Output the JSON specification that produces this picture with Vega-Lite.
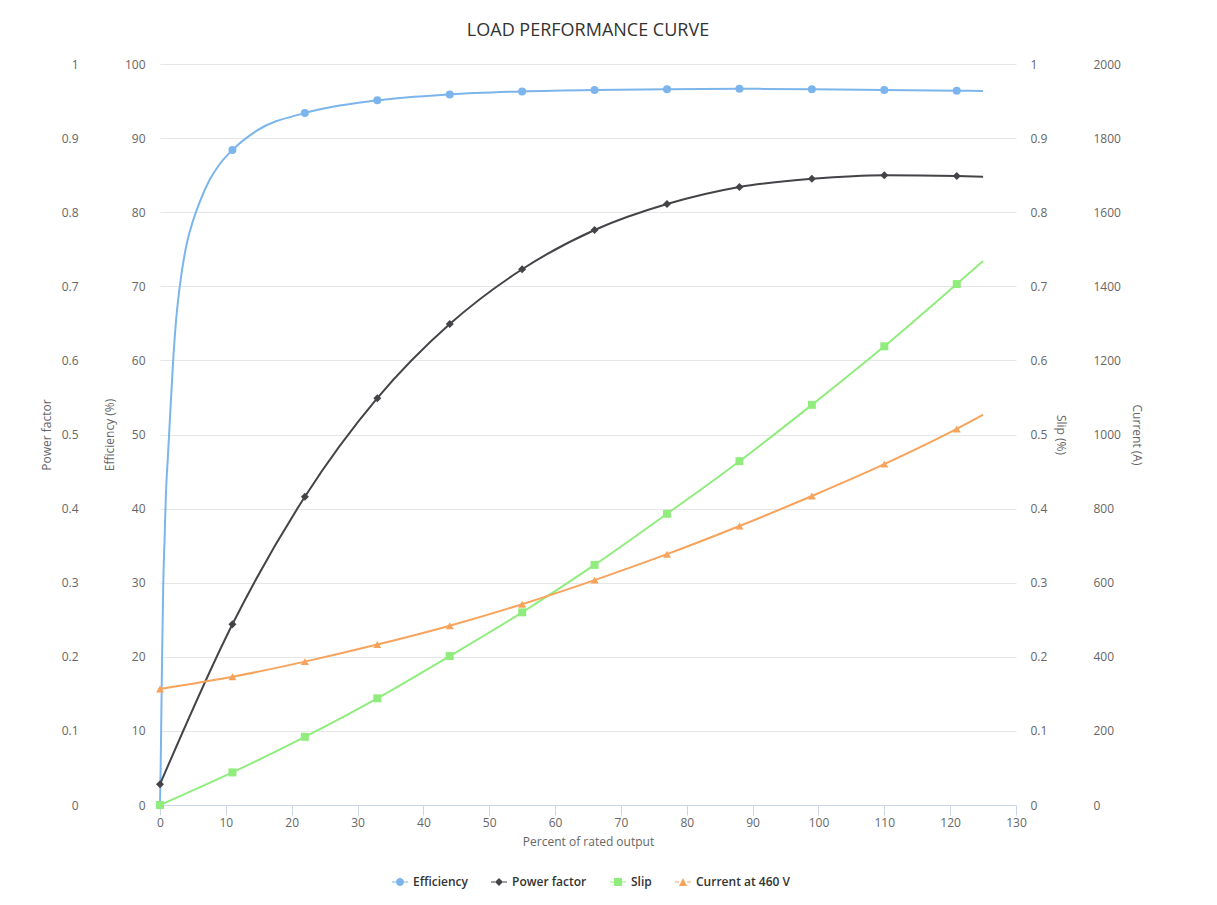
{
  "$schema": "https://vega.github.io/schema/vega-lite/v6.json",
  "width": 856,
  "height": 741,
  "autosize": "none",
  "padding": {"left": 160, "top": 64, "right": 201, "bottom": 100},
  "background": "white",
  "config": {"font": "Open Sans", "view": {"stroke": null}},
  "title": {"text": "LOAD PERFORMANCE CURVE", "fontSize": 18, "fontWeight": "normal", "color": "#333333", "anchor": "middle", "offset": 18},
  "data": {"values": [
    {"s": "Efficiency", "x": 0, "v": 0, "m": 1},
    {"s": "Efficiency", "x": 0.1, "v": 5, "m": 0},
    {"s": "Efficiency", "x": 0.2, "v": 12, "m": 0},
    {"s": "Efficiency", "x": 0.35, "v": 22, "m": 0},
    {"s": "Efficiency", "x": 0.5, "v": 30, "m": 0},
    {"s": "Efficiency", "x": 0.7, "v": 36, "m": 0},
    {"s": "Efficiency", "x": 0.9, "v": 42, "m": 0},
    {"s": "Efficiency", "x": 1.2, "v": 47, "m": 0},
    {"s": "Efficiency", "x": 1.5, "v": 52, "m": 0},
    {"s": "Efficiency", "x": 2.0, "v": 60, "m": 0},
    {"s": "Efficiency", "x": 2.5, "v": 66, "m": 0},
    {"s": "Efficiency", "x": 3.0, "v": 70, "m": 0},
    {"s": "Efficiency", "x": 4.0, "v": 75.5, "m": 0},
    {"s": "Efficiency", "x": 5.0, "v": 78.8, "m": 0},
    {"s": "Efficiency", "x": 6.0, "v": 81.3, "m": 0},
    {"s": "Efficiency", "x": 7.5, "v": 84.3, "m": 0},
    {"s": "Efficiency", "x": 9.0, "v": 86.4, "m": 0},
    {"s": "Efficiency", "x": 11, "v": 88.4, "m": 1},
    {"s": "Efficiency", "x": 14.7, "v": 91.0, "m": 0},
    {"s": "Efficiency", "x": 22, "v": 93.4, "m": 1},
    {"s": "Efficiency", "x": 33, "v": 95.1, "m": 1},
    {"s": "Efficiency", "x": 44, "v": 95.9, "m": 1},
    {"s": "Efficiency", "x": 55, "v": 96.3, "m": 1},
    {"s": "Efficiency", "x": 66, "v": 96.5, "m": 1},
    {"s": "Efficiency", "x": 77, "v": 96.6, "m": 1},
    {"s": "Efficiency", "x": 88, "v": 96.65, "m": 1},
    {"s": "Efficiency", "x": 99, "v": 96.6, "m": 1},
    {"s": "Efficiency", "x": 110, "v": 96.5, "m": 1},
    {"s": "Efficiency", "x": 121, "v": 96.4, "m": 1},
    {"s": "Efficiency", "x": 125, "v": 96.35, "m": 0},
    {"s": "Power factor", "x": 0, "v": 0.028, "m": 1},
    {"s": "Power factor", "x": 11, "v": 0.244, "m": 1},
    {"s": "Power factor", "x": 22, "v": 0.416, "m": 1},
    {"s": "Power factor", "x": 33, "v": 0.549, "m": 1},
    {"s": "Power factor", "x": 44, "v": 0.649, "m": 1},
    {"s": "Power factor", "x": 55, "v": 0.723, "m": 1},
    {"s": "Power factor", "x": 66, "v": 0.776, "m": 1},
    {"s": "Power factor", "x": 77, "v": 0.811, "m": 1},
    {"s": "Power factor", "x": 88, "v": 0.834, "m": 1},
    {"s": "Power factor", "x": 99, "v": 0.845, "m": 1},
    {"s": "Power factor", "x": 110, "v": 0.85, "m": 1},
    {"s": "Power factor", "x": 121, "v": 0.849, "m": 1},
    {"s": "Power factor", "x": 125, "v": 0.848, "m": 0},
    {"s": "Slip", "x": 0, "v": 0, "m": 1},
    {"s": "Slip", "x": 11, "v": 0.044, "m": 1},
    {"s": "Slip", "x": 22, "v": 0.092, "m": 1},
    {"s": "Slip", "x": 33, "v": 0.144, "m": 1},
    {"s": "Slip", "x": 44, "v": 0.201, "m": 1},
    {"s": "Slip", "x": 55, "v": 0.26, "m": 1},
    {"s": "Slip", "x": 66, "v": 0.324, "m": 1},
    {"s": "Slip", "x": 77, "v": 0.393, "m": 1},
    {"s": "Slip", "x": 88, "v": 0.464, "m": 1},
    {"s": "Slip", "x": 99, "v": 0.54, "m": 1},
    {"s": "Slip", "x": 110, "v": 0.619, "m": 1},
    {"s": "Slip", "x": 121, "v": 0.703, "m": 1},
    {"s": "Slip", "x": 125, "v": 0.734, "m": 0},
    {"s": "Current at 460 V", "x": 0, "v": 313, "m": 1},
    {"s": "Current at 460 V", "x": 11, "v": 346, "m": 1},
    {"s": "Current at 460 V", "x": 22, "v": 387, "m": 1},
    {"s": "Current at 460 V", "x": 33, "v": 433, "m": 1},
    {"s": "Current at 460 V", "x": 44, "v": 484, "m": 1},
    {"s": "Current at 460 V", "x": 55, "v": 542, "m": 1},
    {"s": "Current at 460 V", "x": 66, "v": 607, "m": 1},
    {"s": "Current at 460 V", "x": 77, "v": 677, "m": 1},
    {"s": "Current at 460 V", "x": 88, "v": 753, "m": 1},
    {"s": "Current at 460 V", "x": 99, "v": 834, "m": 1},
    {"s": "Current at 460 V", "x": 110, "v": 920, "m": 1},
    {"s": "Current at 460 V", "x": 121, "v": 1015, "m": 1},
    {"s": "Current at 460 V", "x": 125, "v": 1053, "m": 0}
  ]},
  "encoding": {
    "x": {
      "field": "x", "type": "quantitative",
      "scale": {"domain": [0, 130], "nice": false},
      "axis": {
        "title": "Percent of rated output",
        "values": [0, 10, 20, 30, 40, 50, 60, 70, 80, 90, 100, 110, 120, 130],
        "grid": false, "domainColor": "#ccd6eb", "tickColor": "#ccd6eb", "tickSize": 10,
        "labelColor": "#666666", "labelFontSize": 12, "labelPadding": 2, "labelFlush": false,
        "titleColor": "#666666", "titleFontSize": 12, "titleFontWeight": "normal", "titlePadding": 8
      }
    }
  },
  "layer": [
    {
      "transform": [{"filter": {"field": "s", "equal": "Efficiency"}}],
      "encoding": {
        "y": {
          "field": "v", "type": "quantitative",
          "scale": {"domain": [0, 100], "nice": false},
          "axis": {
            "orient": "left", "title": "Efficiency (%)",
            "values": [0, 10, 20, 30, 40, 50, 60, 70, 80, 90, 100],
            "grid": true, "gridColor": "#e6e6e6", "domain": false, "ticks": false,
            "labelPadding": 15, "labelColor": "#666666", "labelFontSize": 12, "labelFlush": false,
            "titleColor": "#666666", "titleFontSize": 12, "titleFontWeight": "normal", "titlePadding": 8
          }
        }
      },
      "layer": [
        {"mark": {"type": "line", "interpolate": "monotone", "color": "#7cb5ec", "strokeWidth": 2}},
        {"transform": [{"filter": {"field": "m", "equal": 1}}],
         "mark": {"type": "point", "shape": "circle", "filled": true, "size": 64, "color": "#7cb5ec", "opacity": 1}}
      ]
    },
    {
      "transform": [{"filter": {"field": "s", "equal": "Power factor"}}],
      "encoding": {
        "y": {
          "field": "v", "type": "quantitative",
          "scale": {"domain": [0, 1], "nice": false},
          "axis": {
            "orient": "left", "title": "Power factor", "offset": 72,
            "values": [0, 0.1, 0.2, 0.3, 0.4, 0.5, 0.6, 0.7, 0.8, 0.9, 1], "format": "~g",
            "grid": false, "domain": false, "ticks": false,
            "labelPadding": 10, "labelColor": "#666666", "labelFontSize": 12, "labelFlush": false,
            "titleColor": "#666666", "titleFontSize": 12, "titleFontWeight": "normal", "titlePadding": 8
          }
        }
      },
      "layer": [
        {"mark": {"type": "line", "interpolate": "monotone", "color": "#434348", "strokeWidth": 2}},
        {"transform": [{"filter": {"field": "m", "equal": 1}}],
         "mark": {"type": "point", "shape": "diamond", "filled": true, "size": 64, "color": "#434348", "opacity": 1}}
      ]
    },
    {
      "transform": [{"filter": {"field": "s", "equal": "Slip"}}],
      "encoding": {
        "y": {
          "field": "v", "type": "quantitative",
          "scale": {"domain": [0, 1], "nice": false},
          "axis": {
            "orient": "right", "title": "Slip (%)",
            "values": [0, 0.1, 0.2, 0.3, 0.4, 0.5, 0.6, 0.7, 0.8, 0.9, 1], "format": "~g",
            "grid": false, "domain": false, "ticks": false,
            "labelPadding": 14, "labelColor": "#666666", "labelFontSize": 12, "labelFlush": false,
            "titleColor": "#666666", "titleFontSize": 12, "titleFontWeight": "normal", "titlePadding": 7
          }
        }
      },
      "layer": [
        {"mark": {"type": "line", "interpolate": "monotone", "color": "#90ed7d", "strokeWidth": 2}},
        {"transform": [{"filter": {"field": "m", "equal": 1}}],
         "mark": {"type": "point", "shape": "square", "filled": true, "size": 64, "color": "#90ed7d", "opacity": 1}}
      ]
    },
    {
      "transform": [{"filter": {"field": "s", "equal": "Current at 460 V"}}],
      "encoding": {
        "y": {
          "field": "v", "type": "quantitative",
          "scale": {"domain": [0, 2000], "nice": false},
          "axis": {
            "orient": "right", "title": "Current (A)", "offset": 67,
            "values": [0, 200, 400, 600, 800, 1000, 1200, 1400, 1600, 1800, 2000], "format": "d",
            "grid": false, "domain": false, "ticks": false,
            "labelPadding": 10, "labelColor": "#666666", "labelFontSize": 12, "labelFlush": false,
            "titleColor": "#666666", "titleFontSize": 12, "titleFontWeight": "normal", "titlePadding": 9
          }
        }
      },
      "layer": [
        {"mark": {"type": "line", "interpolate": "monotone", "color": "#f7a35c", "strokeWidth": 2}},
        {"transform": [{"filter": {"field": "m", "equal": 1}}],
         "mark": {"type": "point", "shape": "triangle-up", "filled": true, "size": 64, "color": "#f7a35c", "opacity": 1}}
      ]
    },
    {
      "transform": [{"filter": "datum.m > 5"}],
      "mark": {"type": "point", "filled": true, "opacity": 1},
      "encoding": {
        "color": {
          "field": "s", "type": "nominal",
          "scale": {"domain": ["Efficiency", "Power factor", "Slip", "Current at 460 V"], "range": ["#7cb5ec", "#434348", "#90ed7d", "#f7a35c"]},
          "legend": {
            "title": null, "orient": "none", "direction": "horizontal", "legendX": 232, "legendY": 810,
            "symbolSize": 256, "symbolStrokeWidth": 0, "labelFontSize": 12, "labelFontWeight": 600,
            "labelColor": "#333333", "labelOffset": 5, "columnPadding": 23, "padding": 0
          }
        },
        "shape": {
          "field": "s", "type": "nominal",
          "scale": {
            "domain": ["Efficiency", "Power factor", "Slip", "Current at 460 V"],
            "range": [
              "M-1,-0.0625H-0.5V0.0625H-1Z M0.5,-0.0625H1V0.0625H0.5Z M-0.5,0A0.5,0.5 0 1,0 0.5,0A0.5,0.5 0 1,0 -0.5,0Z",
              "M-1,-0.0625H-0.5V0.0625H-1Z M0.5,-0.0625H1V0.0625H0.5Z M0,-0.5L0.5,0L0,0.5L-0.5,0Z",
              "M-1,-0.0625H-0.5V0.0625H-1Z M0.5,-0.0625H1V0.0625H0.5Z M-0.5,-0.5H0.5V0.5H-0.5Z",
              "M-1,-0.0625H-0.5V0.0625H-1Z M0.5,-0.0625H1V0.0625H0.5Z M0,-0.5L0.5,0.5H-0.5Z"
            ]
          }
        }
      }
    }
  ],
  "resolve": {"scale": {"y": "independent"}}
}
